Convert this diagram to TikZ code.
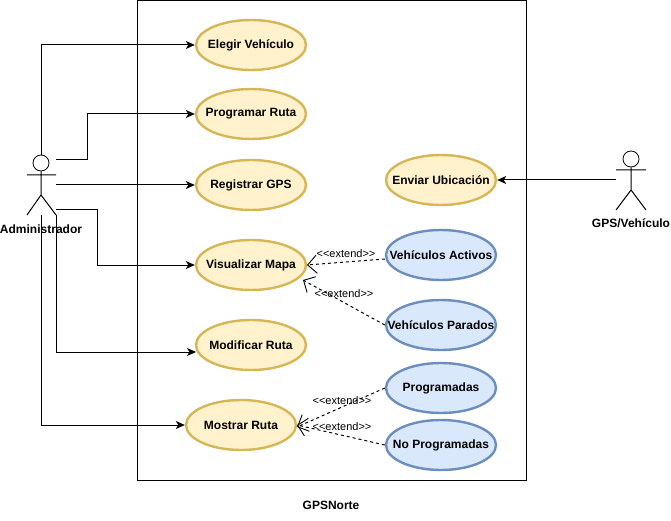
\documentclass[tikz,border=0pt]{standalone}
\usepackage{fontspec}
\setmainfont{Liberation Sans}
\usetikzlibrary{arrows.meta,shapes.geometric}
\newcommand{\extendtxt}{{<}{<}extend{>}{>}}
\newcommand{\casetxt}[1]{\makebox[0pt]{\raisebox{-0.8pt}{#1}}}
\definecolor{yellowline}{HTML}{D6B656}
\definecolor{yellowfill}{HTML}{FFF2CC}
\definecolor{blueline}{HTML}{6C8EBF}
\definecolor{bluefill}{HTML}{DAE8FC}
\tikzset{
	yellowcase/.style={ellipse, draw=yellowline, fill=yellowfill, line width=2.4pt, minimum width=110pt, minimum height=50pt, inner sep=0pt, font=\fontsize{12}{14}\selectfont\bfseries},
	bluecase/.style={ellipse, draw=blueline, fill=bluefill, line width=2.4pt, minimum width=110pt, minimum height=50pt, inner sep=0pt, font=\fontsize{12}{14}\selectfont\bfseries},
	actorhead/.style={circle, draw, fill=white, line width=0.8pt, minimum size=16pt, inner sep=0pt},
	actorlabel/.style={font=\fontsize{12}{14}\selectfont\bfseries, inner sep=0pt},
	assoc/.style={-{Stealth[length=9pt,width=8pt,inset=2.5pt]}, line width=1pt},
	extendline/.style={dashed, -{Straight Barb[length=9pt,width=18pt,line width=0.9pt]}, line width=1pt},
	extendlabel/.style={font=\fontsize{11}{13}\selectfont, inner sep=0pt},
}
\begin{document}
\begin{tikzpicture}[x=1pt, y=-1pt]
	\useasboundingbox (0,0) rectangle (671,521);
	\draw[line width=1pt] (137,0.6) rectangle (526,480);
	\node[actorlabel] (sistema) at (331,505) {GPSNorte};

	\node[yellowcase] (elegir) at (251,45) {\casetxt{Elegir Vehículo}};
	\node[yellowcase] (programar) at (251,114) {\casetxt{Programar Ruta}};
	\node[yellowcase] (registrar) at (251,185) {\casetxt{Registrar GPS}};
	\node[yellowcase] (visualizar) at (251,265) {\casetxt{Visualizar Mapa}};
	\node[yellowcase] (modificar) at (251,345) {\casetxt{Modificar Ruta}};
	\node[yellowcase] (mostrar) at (241,425) {\casetxt{Mostrar Ruta}};
	\node[yellowcase] (enviar) at (441,180) {\casetxt{Enviar Ubicación}};
	\node[bluecase] (activos) at (441,255) {\casetxt{Vehículos Activos}};
	\node[bluecase] (parados) at (441,325) {\casetxt{Vehículos Parados}};
	\node[bluecase] (programadas) at (441,388) {\casetxt{Programadas}};
	\node[bluecase] (noprogramadas) at (441,445) {\casetxt{No Programadas}};

	% actor izquierdo
	\node[actorhead] (adminhead) at (41,163) {};
	\coordinate (adminhip) at (41,195);
	\draw[line width=1pt] (adminhead.south) -- (adminhip) -- (27,215) (adminhip) -- (56,215) (27,175) -- (56,175);
	\node[actorlabel] (adminlabel) at (41,229) {Administrador};
	\coordinate (adminA) at (41,155);
	\coordinate (adminB) at (56,160);
	\coordinate (adminC) at (56,185);
	\coordinate (adminD) at (56,210);
	\coordinate (adminE) at (56,215);
	\coordinate (adminF) at (41,215);

	% actor derecho
	\node[actorhead] (gpshead) at (631,159) {};
	\coordinate (gpship) at (631,190);
	\draw[line width=1pt] (gpshead.south) -- (gpship) -- (616,210) (gpship) -- (646,210) (616,170) -- (646,170);
	\node[actorlabel] (gpslabel) at (631,223) {GPS/Vehículo};
	\coordinate (gpsA) at (616,180);

	\draw[assoc] (adminA) |- (elegir.west);
	\draw[assoc] (adminB) -- (87,160) |- (programar.west);
	\draw[assoc] (adminC) -- (registrar.west);
	\draw[assoc] (adminD) -- (97,210) |- (visualizar.west);
	\draw[assoc] (adminE) |- (196,352);
	\draw[assoc] (adminF) |- (mostrar.west);
	\draw[assoc] (gpsA) -- (enviar.east);

	\draw[extendline] (activos.west) ++(0,4) -- (307,265);
	\draw[extendline] (parados.west) -- (303,280);
	\draw[extendline] (programadas.west) -- (297,427);
	\draw[extendline] (noprogramadas.west) -- (297,425);

	\node[extendlabel] at (346,254) {\extendtxt};
	\node[extendlabel] at (344,294) {\extendtxt};
	\node[extendlabel] at (342,401) {\extendtxt};
	\node[extendlabel] at (342,427) {\extendtxt};
\end{tikzpicture}
\end{document}
